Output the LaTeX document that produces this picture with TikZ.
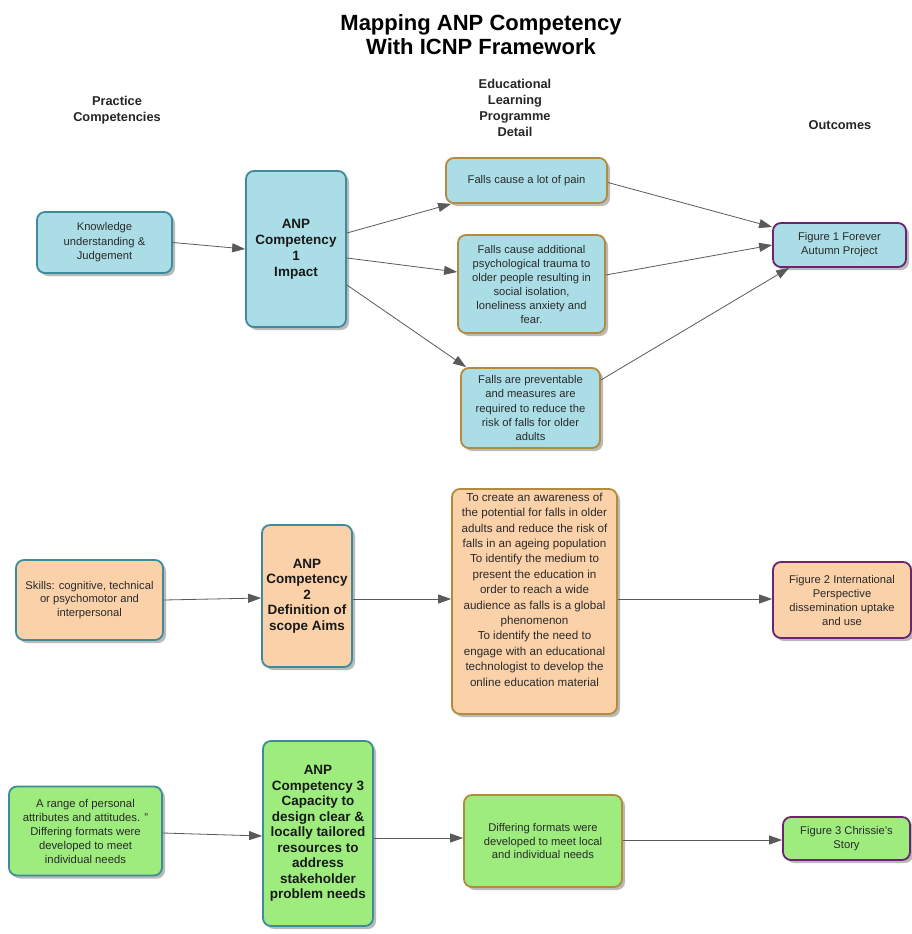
\documentclass[tikz,border=0pt]{standalone}
\usepackage{fontspec}
\setmainfont{Liberation Sans}
\usetikzlibrary{arrows.meta,shadows}

\definecolor{bluefill}{HTML}{ABDDE6}
\definecolor{orangefill}{HTML}{FAD1A9}
\definecolor{greenfill}{HTML}{9DEC7D}
\definecolor{tealline}{HTML}{3C8C9A}
\definecolor{goldline}{HTML}{B48A3C}
\definecolor{purpleline}{HTML}{6C2470}
\definecolor{linkgray}{HTML}{5A5A5A}
\definecolor{boxtext}{HTML}{2A2A2A}

\tikzset{
  card/.style={rounded corners=8pt, line width=1.8pt, align=center,
    inner sep=0pt, text=boxtext,
    font=\fontsize{11.2}{13.8}\selectfont,
    drop shadow={shadow xshift=3pt, shadow yshift=-3pt, fill=black!45, opacity=0.6}},
  bluecard/.style={card, fill=bluefill},
  orangecard/.style={card, fill=orangefill},
  greencard/.style={card, fill=greenfill},
  tealedge/.style={draw=tealline},
  goldedge/.style={draw=goldline},
  purpleedge/.style={draw=purpleline},
  competency/.style={font=\bfseries\fontsize{13.5}{16}\selectfont, text=black!90},
  heading/.style={align=center, font=\bfseries\fontsize{12.8}{16}\selectfont, text=black!85},
  link/.style={draw=linkgray, line width=0.8pt,
    -{Triangle[length=13pt,width=9pt,fill=linkgray]}}
}

\begin{document}
\begin{tikzpicture}[x=1pt,y=-1pt]
\path[use as bounding box, fill=white] (0,0) rectangle (912,934);

% title and column headings
\node[align=center, font=\bfseries\fontsize{22}{24}\selectfont] (title) at (481,35)
  {Mapping ANP Competency\\With ICNP Framework};
\node[heading] (hpractice) at (117,110) {Practice\\Competencies};
\node[heading] (hdetail) at (515,108) {Educational\\Learning\\Programme\\Detail};
\node[heading] (houtcomes) at (840,125) {Outcomes};

% row 1
\node[bluecard, tealedge, minimum width=135pt, minimum height=61pt,
  font=\fontsize{11.2}{14.5}\selectfont] (kn) at (104.5,242.5)
  {Knowledge\\understanding \&\\Judgement};
\node[bluecard, tealedge, competency, minimum width=100pt, minimum height=156pt] (c1) at (296,249)
  {ANP\\Competency\\1\\Impact};
\node[bluecard, goldedge, minimum width=161pt, minimum height=45pt] (pain) at (526.5,180.5)
  {Falls cause a lot of pain};
\node[bluecard, goldedge, minimum width=147pt, minimum height=98pt,
  font=\fontsize{11.2}{14}\selectfont] (add) at (531.5,284)
  {Falls cause additional\\psychological trauma to\\older people resulting in\\social isolation,\\loneliness anxiety and\\fear.};
\node[bluecard, goldedge, minimum width=139pt, minimum height=80pt,
  font=\fontsize{11.2}{14.3}\selectfont] (prev) at (530.5,408)
  {Falls are preventable\\and measures are\\required to reduce the\\risk of falls for older\\adults};
\node[bluecard, purpleedge, minimum width=133pt, minimum height=44pt] (f1) at (839.5,245)
  {Figure 1 Forever\\Autumn Project};

% row 2
\node[orangecard, tealedge, minimum width=147pt, minimum height=80pt] (sk) at (89.5,600)
  {Skills: cognitive, technical\\or psychomotor and\\interpersonal};
\node[orangecard, tealedge, competency, minimum width=90pt, minimum height=142pt,
  font=\bfseries\fontsize{13.5}{15.5}\selectfont] (c2) at (307,596)
  {ANP\\Competency\\2\\Definition of\\scope Aims};
\node[orangecard, goldedge, minimum width=165pt, minimum height=225pt,
  font=\fontsize{11.6}{15.4}\selectfont] (aims) at (534.5,601.5)
  {To create an awareness of\\the potential for falls in older\\adults and reduce the risk of\\falls in an ageing population\\To identify the medium to\\present the education in\\order to reach a wide\\audience as falls is a global\\phenomenon\\To identify the need to\\engage with an educational\\technologist to develop the\\online education material\\[8.6pt]~};
\node[orangecard, purpleedge, minimum width=138pt, minimum height=76pt,
  font=\fontsize{11.2}{14}\selectfont] (f2) at (842,600)
  {Figure 2 International\\Perspective\\dissemination uptake\\and use};

% row 3
\node[greencard, tealedge, minimum width=153pt, minimum height=89pt,
  font=\fontsize{11.3}{14}\selectfont] (rg) at (85.5,831)
  {A range of personal\\attributes and attitudes. "\\Differing formats were\\developed to meet\\individual needs};
\node[greencard, tealedge, competency, minimum width=110pt, minimum height=185pt,
  font=\bfseries\fontsize{13.5}{15.5}\selectfont] (c3) at (318,833.5)
  {ANP\\Competency 3\\Capacity to\\design clear \&\\locally tailored\\resources to\\address\\stakeholder\\problem needs};
\node[greencard, goldedge, minimum width=158pt, minimum height=92pt] (dif) at (543,841)
  {Differing formats were\\developed to meet local\\and individual needs};
\node[greencard, purpleedge, minimum width=127pt, minimum height=43pt] (f3) at (846.5,838.5)
  {Figure 3 Chrissie's\\Story};

% connectors, row 1
\draw[link] (kn.east) -- (c1.west);
\draw[link] ([yshift=16pt]c1.east) -- ([xshift=6pt]pain.south west);
\draw[link] ([yshift=-9pt]c1.east) -- ([yshift=12pt]add.west);
\draw[link] ([yshift=-36pt]c1.east) -- ([xshift=6pt]prev.north west);
\draw[link] ([yshift=-2pt]pain.east) -- ([yshift=18pt]f1.west);
\draw[link] ([yshift=9pt]add.east) -- (f1.west);
\draw[link] ([yshift=28pt]prev.east) -- ([xshift=17pt]f1.south west);

% connectors, row 2
\draw[link] (sk.east) -- ([yshift=-2pt]c2.west);
\draw[link] ([yshift=-3pt]c2.east) -- ([yshift=2.5pt]aims.west);
\draw[link] ([yshift=2.5pt]aims.east) -- ([yshift=1pt]f2.west);

% connectors, row 3
\draw[link] ([yshift=-2pt]rg.east) -- ([yshift=-2.5pt]c3.west);
\draw[link] ([yshift=-4.5pt]c3.east) -- ([yshift=3pt]dif.west);
\draw[link] ([yshift=1pt]dif.east) -- ([yshift=-1.5pt]f3.west);
\end{tikzpicture}
\end{document}
